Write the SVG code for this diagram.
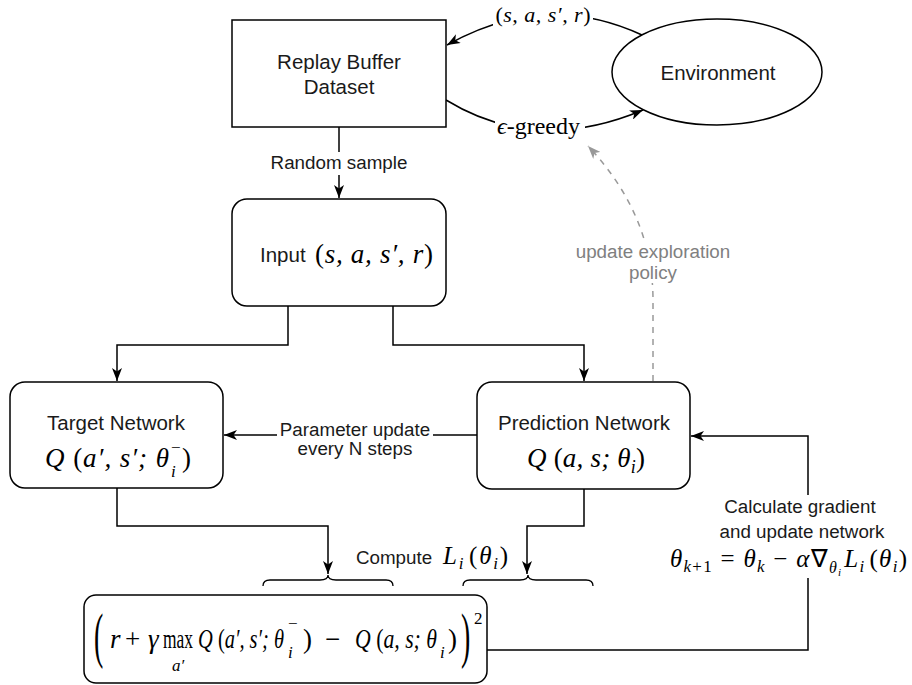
<svg xmlns="http://www.w3.org/2000/svg" width="912" height="685" viewBox="0 0 912 685">
<style>
.box{fill:#fff;stroke:#000;stroke-width:1.5}
.edge{fill:none;stroke:#000;stroke-width:1.5}
.dash{fill:none;stroke:#999;stroke-width:1.5;stroke-dasharray:6 6}
.brace{fill:none;stroke:#000;stroke-width:1.3}
.bg{fill:#fff}
.t{font-family:"Liberation Sans",Arial,Helvetica,sans-serif;font-size:20.5px;fill:#1a1a1a;text-anchor:middle}
.lb{font-family:"Liberation Sans",Arial,Helvetica,sans-serif;font-size:18.8px;fill:#1a1a1a;text-anchor:middle}
.gr{fill:#808080}
.m{font-family:"Liberation Serif","DejaVu Serif",serif;font-style:italic;fill:#000}
.u{font-style:normal}
.mid{text-anchor:middle}
</style>
<defs>
<marker id="arr" markerWidth="14" markerHeight="10" refX="13" refY="5" orient="auto" markerUnits="userSpaceOnUse"><path d="M0,0 L13,5 L0,10 L3.5,5 Z" fill="#000"/></marker>
<marker id="arrg" markerWidth="14" markerHeight="10" refX="13" refY="5" orient="auto" markerUnits="userSpaceOnUse"><path d="M0,0 L13,5 L0,10 L3.5,5 Z" fill="#999"/></marker>
</defs>

<!-- connectors and their labels -->
<g id="connectors">
  <!-- Environment -> Replay Buffer -->
  <path class="edge" d="M642,35 Q545,-10 447,45" marker-end="url(#arr)"/>
  <rect class="bg" x="493" y="2" width="100" height="28"/>
  <text class="m mid" x="543" y="22" font-size="22" textLength="95" lengthAdjust="spacing"><tspan class="u">(</tspan>s, a, s′, r<tspan class="u">)</tspan></text>

  <!-- Replay Buffer -> Environment -->
  <path class="edge" d="M446,100 Q536,155 643,110" marker-end="url(#arr)"/>
  <rect class="bg" x="495" y="115" width="90" height="27"/>
  <text class="m" x="497" y="134" font-size="24">ϵ<tspan class="u">-greedy</tspan></text>

  <!-- Replay Buffer -> Input -->
  <path class="edge" d="M339,127 V198" marker-end="url(#arr)"/>
  <rect class="bg" x="266" y="152" width="146" height="23"/>
  <text class="lb" x="339" y="169">Random sample</text>

  <!-- Input -> Target / Prediction -->
  <path class="edge" d="M288,306 V345 H117 V381" marker-end="url(#arr)"/>
  <path class="edge" d="M393,306 V345 H584 V381" marker-end="url(#arr)"/>

  <!-- Prediction -> Target -->
  <path class="edge" d="M477,435 H224" marker-end="url(#arr)"/>
  <rect class="bg" x="277" y="420" width="156" height="42"/>
  <text class="lb" x="355" y="436">Parameter update</text>
  <text class="lb" x="355" y="455">every N steps</text>

  <!-- Prediction -> Environment (exploration policy) -->
  <path class="dash" d="M653,381 L653,300 Q653,215 588,146" marker-end="url(#arrg)"/>
  <rect class="bg" x="580" y="241" width="147" height="42"/>
  <text class="lb gr" x="653" y="258">update exploration</text>
  <text class="lb gr" x="653" y="279">policy</text>

  <!-- Target / Prediction -> loss -->
  <path class="edge" d="M117,488 V526 H328 V574" marker-end="url(#arr)"/>
  <path class="edge" d="M584,489 V526 H527 V574" marker-end="url(#arr)"/>
  <text class="lb" x="394" y="564">Compute</text>
  <text class="m" x="443" y="564" font-size="25" textLength="65" lengthAdjust="spacing">L<tspan font-size="17" dy="5">i</tspan><tspan class="u" dy="-5" dx="4">(</tspan>θ<tspan font-size="17" dy="5">i</tspan><tspan class="u" dy="-5">)</tspan></text>
  <path class="brace" d="M263,586 Q263,580 270,580 L320,580 Q328,580 328,575 Q328,580 336,580 L386,580 Q393,580 393,586"/>
  <path class="brace" d="M463,586 Q463,580 470,580 L520,580 Q528,580 528,575 Q528,580 536,580 L586,580 Q593,580 593,586"/>

  <!-- loss -> Prediction (gradient update) -->
  <path class="edge" d="M487,650 H808 V436 H691" marker-end="url(#arr)"/>
  <rect class="bg" x="668" y="495" width="242" height="83"/>
  <text class="lb" x="800" y="513">Calculate gradient</text>
  <text class="lb" x="802" y="538">and update network</text>
  <text class="m" x="670" y="567" font-size="25" textLength="237" lengthAdjust="spacing">θ<tspan font-size="17" dy="5">k</tspan><tspan class="u" font-size="17">+1</tspan><tspan class="u" dy="-5"> = </tspan>θ<tspan font-size="17" dy="5">k</tspan><tspan class="u" dy="-5"> − </tspan>α<tspan class="u" font-family="Liberation Serif">∇</tspan><tspan font-size="16" dy="6">θ</tspan><tspan font-size="11" dy="3">i</tspan><tspan dy="-9" dx="2">L</tspan><tspan font-size="17" dy="5">i</tspan><tspan class="u" dy="-5" dx="4">(</tspan>θ<tspan font-size="17" dy="5">i</tspan><tspan class="u" dy="-5">)</tspan></text>
</g>

<!-- Replay Buffer -->
<g id="node-replay">
  <rect class="box" x="232" y="20" width="214" height="107"/>
  <text class="t" x="339" y="69">Replay Buffer</text>
  <text class="t" x="339" y="94">Dataset</text>
</g>

<!-- Environment -->
<g id="node-environment">
  <ellipse class="box" cx="717" cy="72" rx="105" ry="53"/>
  <text class="t" x="718" y="80">Environment</text>
</g>

<!-- Input -->
<g id="node-input">
  <rect class="box" x="232" y="199" width="214" height="107" rx="15"/>
  <text class="t" x="260" y="262" style="text-anchor:start">Input</text>
  <text class="m" x="315" y="263" font-size="27" textLength="118" lengthAdjust="spacing"><tspan class="u">(</tspan>s, a, s′, r<tspan class="u">)</tspan></text>
</g>

<!-- Target Network -->
<g id="node-target">
  <rect class="box" x="10" y="382" width="213" height="106" rx="15"/>
  <text class="t" x="116" y="430">Target Network</text>
  <text class="m" x="45" y="467" font-size="27" textLength="124" lengthAdjust="spacing">Q <tspan class="u">(</tspan>a′, s′; θ</text>
  <text class="m" x="171" y="477" font-size="17">i</text>
  <text class="m" x="171" y="453" font-size="17" style="font-style:normal">−</text>
  <text class="m" x="182" y="467" font-size="27" style="font-style:normal">)</text>
</g>

<!-- Prediction Network -->
<g id="node-prediction">
  <rect class="box" x="477" y="382" width="213" height="107" rx="15"/>
  <text class="t" x="584" y="430">Prediction Network</text>
  <text class="m" x="527" y="467" font-size="27" textLength="118" lengthAdjust="spacing">Q <tspan class="u">(</tspan>a, s; θ<tspan font-size="18" dy="6">i</tspan><tspan class="u" dy="-6">)</tspan></text>
</g>

<!-- Loss expression -->
<g id="node-loss">
  <rect class="box" x="84" y="595" width="403" height="88" rx="12"/>
  <text class="m" transform="translate(94,656) scale(0.45,1)" font-size="62" style="font-style:normal">(</text>
  <text class="m" x="110" y="648" font-size="27">r</text>
  <text class="m" x="125" y="648" font-size="27" style="font-style:normal">+</text>
  <text class="m" x="148" y="648" font-size="27">γ</text>
  <text class="m" x="163" y="648" font-size="27" style="font-style:normal" textLength="30" lengthAdjust="spacingAndGlyphs">max</text>
  <text class="m mid" x="178" y="671" font-size="17">a′</text>
  <text class="m" x="198" y="648" font-size="27" textLength="86" lengthAdjust="spacingAndGlyphs">Q <tspan class="u">(</tspan>a′, s′; θ</text>
  <text class="m" x="288" y="658" font-size="17">i</text>
  <text class="m" x="288" y="629" font-size="17" style="font-style:normal">−</text>
  <text class="m" x="303" y="648" font-size="27" style="font-style:normal">)</text>
  <text class="m" x="325" y="648" font-size="27" style="font-style:normal">−</text>
  <text class="m" x="355" y="648" font-size="27" textLength="82" lengthAdjust="spacingAndGlyphs">Q <tspan class="u">(</tspan>a, s; θ</text>
  <text class="m" x="440" y="658" font-size="17">i</text>
  <text class="m" x="448" y="648" font-size="27" style="font-style:normal">)</text>
  <text class="m" transform="translate(461,656) scale(0.45,1)" font-size="62" style="font-style:normal">)</text>
  <text class="m" x="474" y="624" font-size="17" style="font-style:normal">2</text>
</g>
</svg>
